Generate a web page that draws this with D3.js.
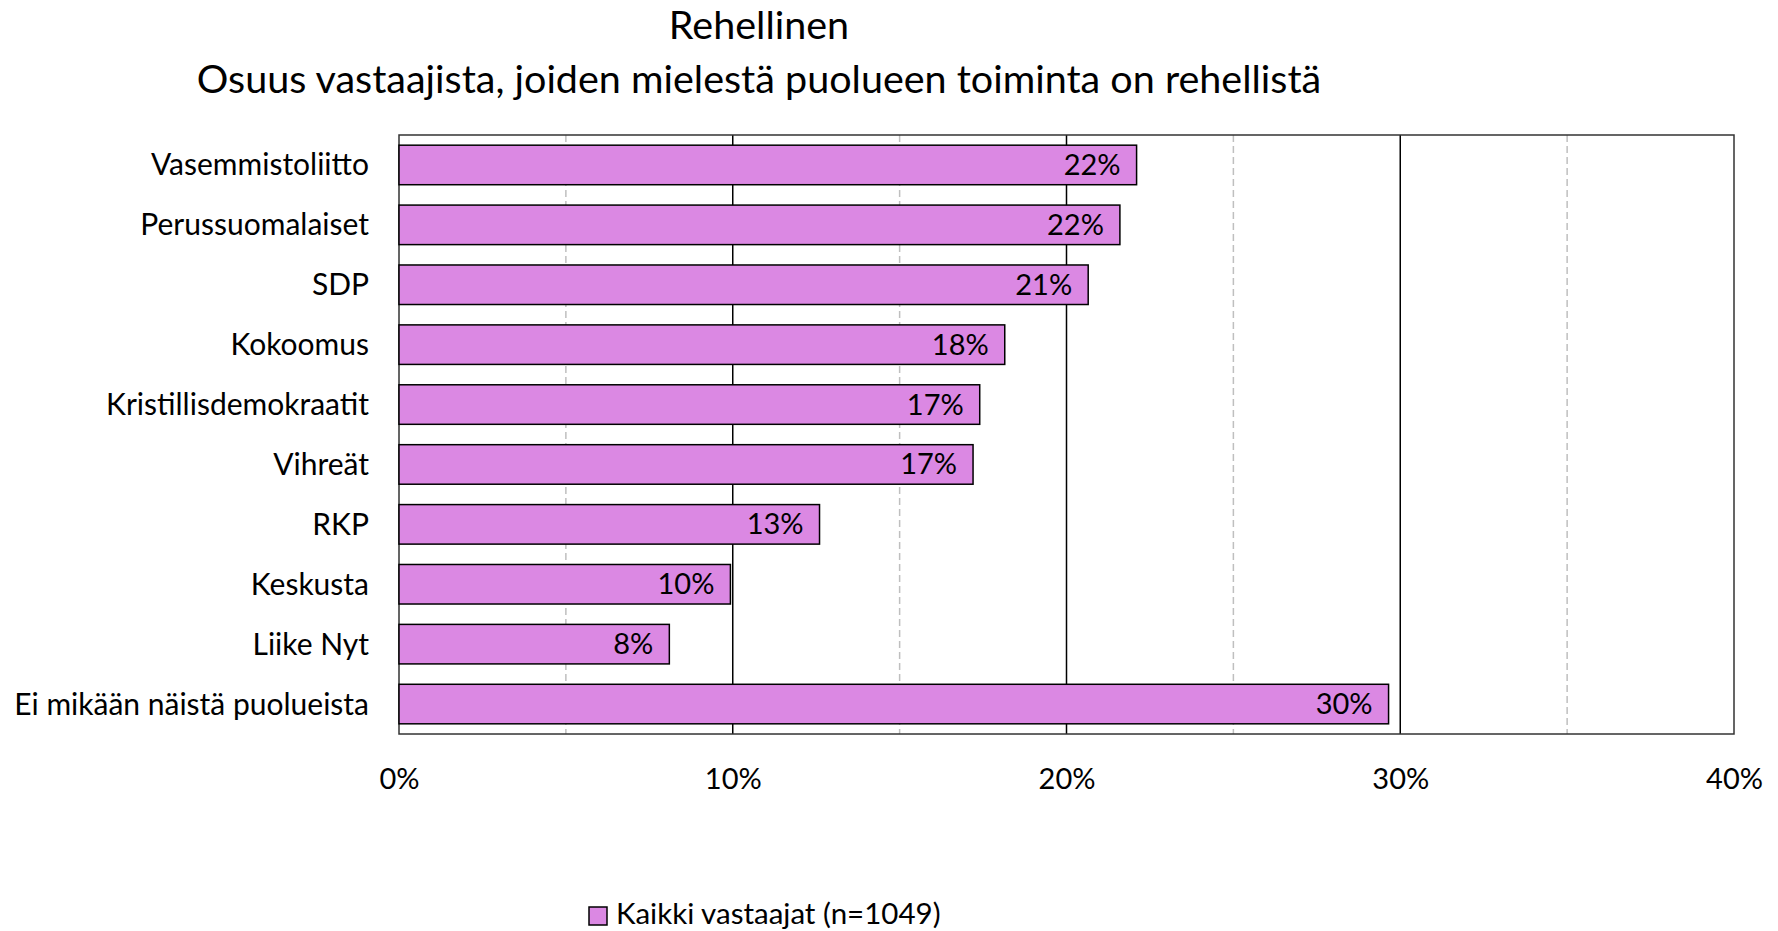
<!DOCTYPE html>
<html>
<head>
<meta charset="utf-8">
<script src="https://cdn.jsdelivr.net/npm/d3@7"></script>
<style>
  body { margin: 0; background: #fff; }
  text { font-family: Lato, "Open Sans", sans-serif; fill: #000; }
</style>
</head>
<body>
<script>
const categories = [
  "Vasemmistoliitto",
  "Perussuomalaiset",
  "SDP",
  "Kokoomus",
  "Kristillisdemokraatit",
  "Vihreät",
  "RKP",
  "Keskusta",
  "Liike Nyt",
  "Ei mikään näistä puolueista",
];
const values = [22.1, 21.6, 20.65, 18.15, 17.4, 17.2, 12.6, 9.93, 8.1, 29.65];
const majorTicks = [0, 10, 20, 30, 40];
const minorTicks = [5, 15, 25, 35];
const titleLines = [
  "Rehellinen",
  "Osuus vastaajista, joiden mielestä puolueen toiminta on rehellistä",
];
const seriesName = "Kaikki vastaajat (n=1049)";

const canvas = { width: 1778, height: 931 };
const plot = { left: 399, right: 1734, top: 135, bottom: 734 };
const barFill = "#db88e3";

const svg = d3
  .select("body")
  .append("svg")
  .attr("width", canvas.width)
  .attr("height", canvas.height);

const xScale = d3
  .scaleLinear()
  .domain([0, 40])
  .range([plot.left, plot.right]);

const yScale = d3
  .scaleBand()
  .domain(categories)
  .range([plot.top, plot.bottom])
  .paddingInner(0.34)
  .paddingOuter(0.17);

// title
svg
  .selectAll(".title")
  .data(titleLines)
  .enter()
  .append("text")
  .attr("class", "title")
  .attr("x", 759)
  .attr("y", (d, i) => (i === 0 ? 39 : 93))
  .attr("text-anchor", "middle")
  .style("font-size", "39.5px")
  .text((d) => d);

// gridlines
svg
  .append("g")
  .selectAll("line")
  .data(minorTicks)
  .enter()
  .append("line")
  .attr("x1", (d) => xScale(d))
  .attr("x2", (d) => xScale(d))
  .attr("y1", plot.top)
  .attr("y2", plot.bottom)
  .attr("stroke", "#bfbfbf")
  .attr("stroke-width", 1.5)
  .attr("stroke-dasharray", "7,4");

svg
  .append("g")
  .selectAll("line")
  .data(majorTicks.slice(1, -1))
  .enter()
  .append("line")
  .attr("x1", (d) => xScale(d))
  .attr("x2", (d) => xScale(d))
  .attr("y1", plot.top)
  .attr("y2", plot.bottom)
  .attr("stroke", "#000")
  .attr("stroke-width", 1.5);

// plot border
svg
  .append("rect")
  .attr("x", plot.left)
  .attr("y", plot.top)
  .attr("width", plot.right - plot.left)
  .attr("height", plot.bottom - plot.top)
  .attr("fill", "none")
  .attr("stroke", "#333")
  .attr("stroke-width", 1.5);

// bars
svg
  .append("g")
  .selectAll("rect")
  .data(values)
  .enter()
  .append("rect")
  .attr("x", xScale(0))
  .attr("y", (d, i) => yScale(categories[i]))
  .attr("width", (d) => xScale(d) - xScale(0))
  .attr("height", yScale.bandwidth())
  .attr("fill", barFill)
  .attr("stroke", "#000")
  .attr("stroke-width", 1.5);

// value labels
svg
  .append("g")
  .selectAll("text")
  .data(values)
  .enter()
  .append("text")
  .attr("x", (d) => xScale(d) - 16)
  .attr("y", (d, i) => yScale(categories[i]) + yScale.bandwidth() / 2 + 10)
  .attr("text-anchor", "end")
  .style("font-size", "29px")
  .text((d) => `${Math.round(d)}%`);

// category axis
const yAxis = svg
  .append("g")
  .attr("transform", `translate(${plot.left},0)`)
  .call(d3.axisLeft(yScale).tickSize(0).tickPadding(30));
yAxis.select(".domain").remove();
yAxis.selectAll("text").style("font-size", "30px").attr("dy", "0.35em");

// value axis
const xAxis = svg
  .append("g")
  .attr("transform", `translate(0,${plot.bottom})`)
  .call(
    d3
      .axisBottom(xScale)
      .tickValues(majorTicks)
      .tickSize(0)
      .tickPadding(34)
      .tickFormat((d) => `${d}%`)
  );
xAxis.select(".domain").remove();
xAxis.selectAll("text").style("font-size", "29px");

// legend
const legend = svg.append("g").attr("transform", "translate(589,907)");
legend
  .append("rect")
  .attr("width", 18)
  .attr("height", 18)
  .attr("fill", barFill)
  .attr("stroke", "#000")
  .attr("stroke-width", 1.5);
legend
  .append("text")
  .attr("x", 27)
  .attr("y", 17)
  .style("font-size", "29.5px")
  .text(seriesName);
</script>
</body>
</html>
